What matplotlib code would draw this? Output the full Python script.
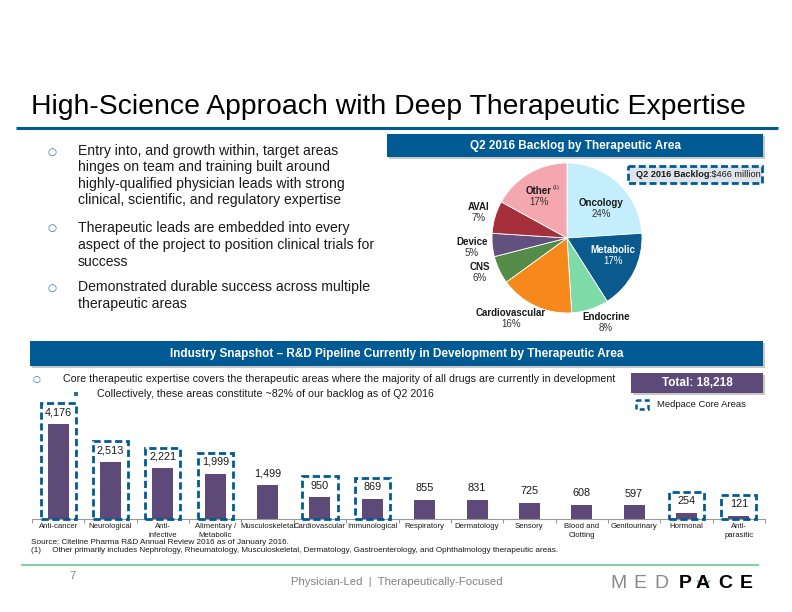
import matplotlib
matplotlib.use("Agg")
import matplotlib.pyplot as plt
from matplotlib.patches import Rectangle, Arc
import numpy as np

plt.rcParams['font.family'] = ['Liberation Sans', 'DejaVu Sans']

# ---------------- data ----------------
title = "High-Science Approach with Deep Therapeutic Expertise"

pie_labels = ["Oncology", "Metabolic", "Endocrine", "Cardiovascular", "CNS", "Device", "AVAI", "Other"]
pie_values = [24, 17, 8, 16, 6, 5, 7, 17]
pie_colors = ["#c4eefb", "#0b5a8e", "#7edaa6", "#f7891c", "#548b49", "#63507f", "#a5303c", "#f4a7ae"]

bar_categories = ["Anti-cancer", "Neurological", "Anti-\ninfective", "Alimentary /\nMetabolic",
                  "Musculoskeletal", "Cardiovascular", "Immunological", "Respiratory",
                  "Dermatology", "Sensory", "Blood and\nClotting", "Genitourinary",
                  "Hormonal", "Anti-\nparasitic"]
bar_values = [4176, 2513, 2221, 1999, 1499, 950, 869, 855, 831, 725, 608, 597, 254, 121]
core_area = [True, True, True, True, False, True, True, False, False, False, False, False, True, True]
total_label = "Total: 18,218"

bullets = [
    ["Entry into, and growth within, target areas",
     "hinges on team and training built around",
     "highly-qualified physician leads with strong",
     "clinical, scientific, and regulatory expertise"],
    ["Therapeutic leads are embedded into every",
     "aspect of the project to position clinical trials for",
     "success"],
    ["Demonstrated durable success across multiple",
     "therapeutic areas"],
]

BLUE = "#005b94"
PURPLE = "#5e4a78"
TXT = "#1a1a1a"

W, H = 792, 612
fig = plt.figure(figsize=(W / 100, H / 100), dpi=100)
fig.patch.set_facecolor("white")

bg = fig.add_axes([0, 0, 1, 1])
bg.set_xlim(0, W)
bg.set_ylim(H, 0)
bg.axis("off")

# title + rule
bg.text(31, 107, title, fontsize=20.4, color="#000000", va="center", ha="left")
bg.plot([16, 778], [128, 128], color=BLUE, lw=2.2, solid_capstyle="butt")

# left bullets
ys = [[151, 167, 184, 200], [228, 245, 262], [287, 304]]
for lines, yy in zip(bullets, ys):
    bg.text(52, yy[0] + 0.5, "○", fontsize=7.5, color="#2a6fa8", va="center", ha="center",
            family=["DejaVu Sans"])
    for line, y in zip(lines, yy):
        bg.text(78, y, line, fontsize=10.1, color=TXT, va="center", ha="left")

def header(x0, y0, x1, y1, text, fc=BLUE, fs=8.5):
    bg.add_patch(Rectangle((x0 + 2, y0 + 2), x1 - x0, y1 - y0, facecolor="#c8c8c8", edgecolor="none", zorder=1))
    bg.add_patch(Rectangle((x0, y0), x1 - x0, y1 - y0, facecolor=fc, edgecolor="none", zorder=2))
    bg.text((x0 + x1) / 2, (y0 + y1) / 2, text, color="white", fontsize=fs, fontweight="bold",
            va="center", ha="center", zorder=3)

header(387, 134, 763, 157, "Q2 2016 Backlog by Therapeutic Area")
header(30, 341, 763, 366, "Industry Snapshot \u2013 R&D Pipeline Currently in Development by Therapeutic Area")

# backlog dashed box
bg.add_patch(Rectangle((628, 166), 134, 17, facecolor="#dfe4ea", edgecolor=BLUE, lw=2,
                       linestyle=(0, (2.5, 1.2)), zorder=2))
t1 = bg.text(636, 174.5, "Q2 2016 Backlog", fontsize=6.6, fontweight="bold", color=TXT, va="center", ha="left", zorder=3)
fig.canvas.draw()
bb = t1.get_window_extent()
inv = bg.transData.inverted()
xend = inv.transform((bb.x1, bb.y0))[0]
bg.text(xend, 174.5, ":$466 million", fontsize=6.6, color=TXT, va="center", ha="left", zorder=3)

# ---------------- pie ----------------
cx, cy, r = 567, 238, 75
pax = fig.add_axes([(cx - r) / W, (H - cy - r) / H, 2 * r / W, 2 * r / H])
pax.pie(pie_values, colors=pie_colors, startangle=90, counterclock=False,
        wedgeprops=dict(linewidth=0.6, edgecolor="white"), radius=1)
pax.set_xlim(-1, 1)
pax.set_ylim(-1, 1)
pax.set_aspect("auto")
pax.axis("off")

# overlay for text above the pie
fg = fig.add_axes([0, 0, 1, 1])
fg.set_xlim(0, W)
fg.set_ylim(H, 0)
fg.axis("off")
fg.patch.set_alpha(0)

label_pos = {
    "Oncology": (601, 203, TXT), "Metabolic": (613, 250, "white"), "Endocrine": (606, 317, TXT),
    "Cardiovascular": (511, 313, TXT), "CNS": (480, 267, TXT), "Device": (472, 242, TXT),
    "AVAI": (479, 207, TXT), "Other": (539, 191, TXT),
}
for name, val in zip(pie_labels, pie_values):
    x, y, c = label_pos[name]
    fg.text(x, y, name, fontsize=7, fontweight="bold", color=c, va="center", ha="center", zorder=5)
    fg.text(x, y + 11, f"{val}%", fontsize=7, color=c if c == "white" else "#333333", va="center", ha="center", zorder=5)
fg.text(553, 187, "(1)", fontsize=4, color=TXT, va="center", ha="left", zorder=5)

# ---------------- bar chart section text ----------------
bg.text(36, 379.5, "○", fontsize=6.5, color="#2a6fa8", va="center", ha="center", family=["DejaVu Sans"])
bg.text(63, 379, "Core therapeutic expertise covers the therapeutic areas where the majority of all drugs are currently in development",
        fontsize=7.65, color=TXT, va="center", ha="left")
bg.add_patch(Rectangle((74, 392), 3.5, 3.5, facecolor="#2a6fa8", edgecolor="none"))
bg.text(97, 394, "Collectively, these areas constitute ~82% of our backlog as of Q2 2016",
        fontsize=7.65, color=TXT, va="center", ha="left")

header(631, 373, 763, 393, total_label, fc=PURPLE, fs=8.5)
bg.add_patch(Rectangle((636, 400), 12, 9, facecolor="none", edgecolor=BLUE, lw=1.8,
                       linestyle=(0, (2, 1.3))))
bg.text(657, 404.5, "Medpace Core Areas", fontsize=6.8, color=TXT, va="center", ha="left")

# ---------------- bars ----------------
base_y, top_y, left_x, right_x = 519, 380, 32, 765
scale = 95 / 4176.0
ymax = (base_y - top_y) / scale
bax = fig.add_axes([left_x / W, (H - base_y) / H, (right_x - left_x) / W, (base_y - top_y) / H])
xs = np.arange(len(bar_values))
bax.bar(xs, bar_values, width=0.4, color=PURPLE, zorder=2)
bax.set_xlim(-0.5, len(bar_values) - 0.5)
bax.set_ylim(0, ymax)
for s in ["top", "right", "left"]:
    bax.spines[s].set_visible(False)
bax.spines["bottom"].set_color("#9a9a9a")
bax.spines["bottom"].set_linewidth(0.8)
bax.set_yticks([])
bax.set_xticks(xs)
bax.set_xticklabels(bar_categories, fontsize=5.6, color=TXT, linespacing=1.3)
bax.tick_params(axis="x", which="major", length=0, pad=3)
bax.set_xticks(np.arange(-0.5, len(bar_values), 1), minor=True)
bax.tick_params(axis="x", which="minor", length=3, color="#9a9a9a", width=0.8)
bax.patch.set_alpha(0)

for i, (v, core) in enumerate(zip(bar_values, core_area)):
    bax.annotate(f"{v:,}", (i, v), xytext=(0, 8.5), textcoords="offset points",
                 ha="center", va="center", fontsize=7.8, color=TXT)
    if core:
        bax.add_patch(Rectangle((i - 0.335, 0), 0.67, v + 920, facecolor="none", edgecolor=BLUE,
                                lw=2.0, linestyle=(0, (2.6, 1.3)), clip_on=False, zorder=3))

# ---------------- footer ----------------
bg.text(31, 543, "Source: Citeline Pharma R&D Annual Review 2016 as of January 2016.", fontsize=5.9, color=TXT,
        va="center", ha="left")
bg.text(31, 551, "(1)     Other primarily includes Nephrology, Rheumatology, Musculoskeletal, Dermatology, Gastroenterology, and Ophthalmology therapeutic areas.",
        fontsize=5.9, color=TXT, va="center", ha="left")
bg.plot([22, 758], [565, 565], color="#7fd4a2", lw=1.5)
bg.text(72, 576, "7", fontsize=8, color="#808080", va="center", ha="center")
bg.text(397, 582, "Physician-Led  |  Therapeutically-Focused", fontsize=8.2, color="#808080", va="center", ha="center")

logo = [("M", 618, "#8a8a8a", "light"), ("E", 640, "#8a8a8a", "light"), ("D", 661, "#8a8a8a", "light"),
        ("P", 685, "#000000", "bold"), ("A", 703, "#000000", "bold"), ("C", 725, "#000000", "bold"),
        ("E", 746, "#000000", "bold")]
for ch, x, c, w in logo:
    bg.text(x, 583, ch, fontsize=14, color=c, fontweight=w, va="center", ha="center")
bg.add_patch(Arc((703.5, 578), 13, 13, theta1=20, theta2=160, color="#7cc9b8", lw=1.5))

fig.savefig("out.png", dpi=100, facecolor="white")
